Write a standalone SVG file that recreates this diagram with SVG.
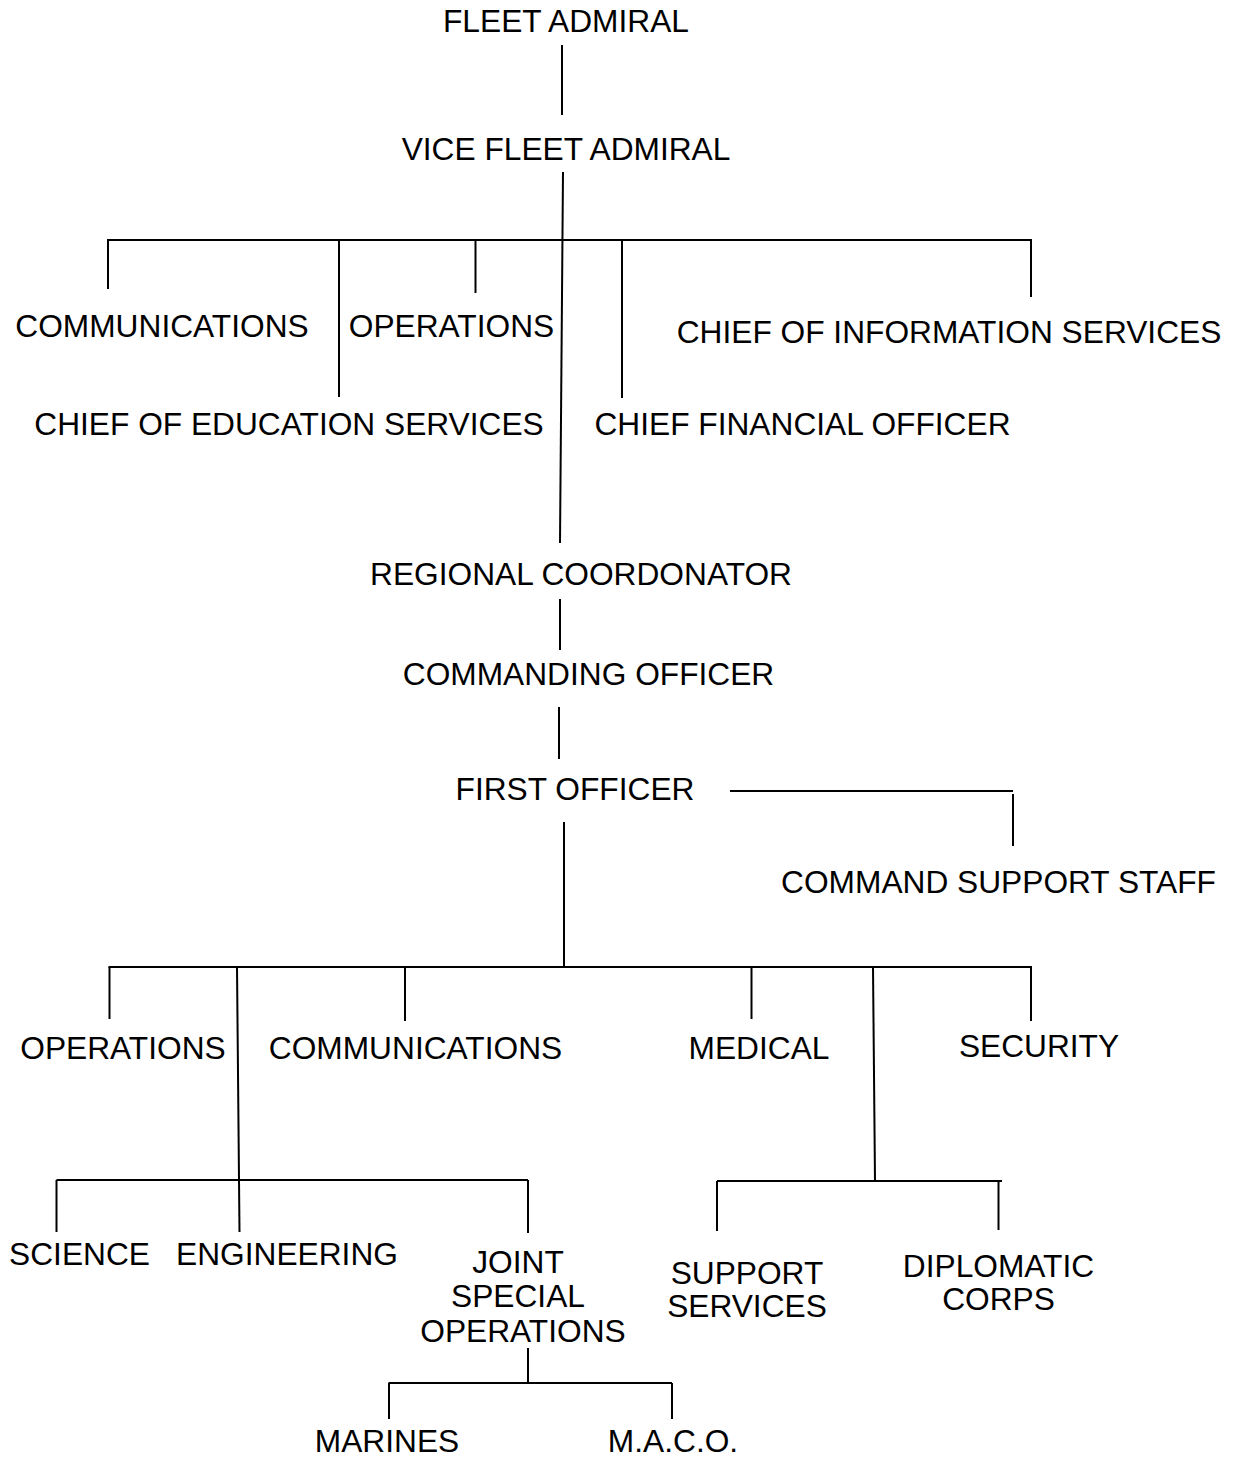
<svg xmlns="http://www.w3.org/2000/svg" width="1238" height="1460" viewBox="0 0 1238 1460">
  <style>
    .bg { fill: #ffffff; }
    .lbl { font-family: "Liberation Sans", Arial, sans-serif; font-size: 31.7px; fill: #000000; text-anchor: middle; }
    .ln { stroke: #000000; stroke-width: 2; fill: none; stroke-linecap: butt; }
  </style>
  <rect class="bg" x="0" y="0" width="1238" height="1460"/>

  <!-- connectors -->
  <g id="connectors">
    <!-- fleet admiral to vice -->
    <line class="ln" x1="562" y1="45" x2="562" y2="115"/>
    <!-- vice down to regional coordinator -->
    <line class="ln" x1="563" y1="172" x2="560" y2="543"/>
    <!-- staff bar -->
    <line class="ln" x1="107" y1="240" x2="1032" y2="240"/>
    <line class="ln" x1="108" y1="240" x2="108" y2="289"/>
    <line class="ln" x1="339" y1="240" x2="339" y2="397"/>
    <line class="ln" x1="475.5" y1="240" x2="475.5" y2="293"/>
    <line class="ln" x1="622" y1="240" x2="622" y2="398"/>
    <line class="ln" x1="1031" y1="240" x2="1031" y2="297"/>
    <!-- chain of command -->
    <line class="ln" x1="560" y1="599" x2="560" y2="650"/>
    <line class="ln" x1="559" y1="707" x2="559" y2="759"/>
    <!-- first officer to command support staff -->
    <line class="ln" x1="730" y1="791" x2="1013" y2="791"/>
    <line class="ln" x1="1013" y1="794" x2="1013" y2="846"/>
    <!-- first officer to departments -->
    <line class="ln" x1="564" y1="822" x2="564" y2="967"/>
    <line class="ln" x1="108.5" y1="967" x2="1032" y2="967"/>
    <line class="ln" x1="109.5" y1="967" x2="109.5" y2="1019"/>
    <line class="ln" x1="405" y1="967" x2="405" y2="1021"/>
    <line class="ln" x1="751.5" y1="967" x2="751.5" y2="1019"/>
    <line class="ln" x1="1031" y1="967" x2="1031" y2="1021"/>
    <!-- branch to science / engineering / jso -->
    <line class="ln" x1="237" y1="967" x2="239.5" y2="1232"/>
    <line class="ln" x1="56.5" y1="1180" x2="528" y2="1180"/>
    <line class="ln" x1="56.5" y1="1180" x2="56.5" y2="1232"/>
    <line class="ln" x1="528" y1="1180" x2="528" y2="1233"/>
    <!-- jso to marines / maco -->
    <line class="ln" x1="528" y1="1348" x2="528" y2="1383"/>
    <line class="ln" x1="388.5" y1="1383" x2="672" y2="1383"/>
    <line class="ln" x1="389" y1="1383" x2="389" y2="1419"/>
    <line class="ln" x1="672" y1="1383" x2="672" y2="1419"/>
    <!-- branch to support services / diplomatic corps -->
    <line class="ln" x1="873" y1="967" x2="875" y2="1180"/>
    <line class="ln" x1="717" y1="1181" x2="1002" y2="1181"/>
    <line class="ln" x1="717" y1="1181" x2="717" y2="1231"/>
    <line class="ln" x1="998.5" y1="1181" x2="998.5" y2="1230"/>
  </g>

  <!-- nodes -->
  <g id="fleet-admiral"><text class="lbl" x="566" y="31.5">FLEET ADMIRAL</text></g>
  <g id="vice-fleet-admiral"><text class="lbl" x="566" y="160">VICE FLEET ADMIRAL</text></g>
  <g id="staff-communications"><text class="lbl" x="162" y="337">COMMUNICATIONS</text></g>
  <g id="staff-operations"><text class="lbl" x="451.5" y="337">OPERATIONS</text></g>
  <g id="chief-information"><text class="lbl" x="949" y="343">CHIEF OF INFORMATION SERVICES</text></g>
  <g id="chief-education"><text class="lbl" x="289" y="435">CHIEF OF EDUCATION SERVICES</text></g>
  <g id="chief-financial"><text class="lbl" x="802.5" y="435">CHIEF FINANCIAL OFFICER</text></g>
  <g id="regional-coordinator"><text class="lbl" x="581" y="585">REGIONAL COORDONATOR</text></g>
  <g id="commanding-officer"><text class="lbl" x="588.5" y="685">COMMANDING OFFICER</text></g>
  <g id="first-officer"><text class="lbl" x="575" y="800">FIRST OFFICER</text></g>
  <g id="command-support-staff"><text class="lbl" x="998.5" y="893">COMMAND SUPPORT STAFF</text></g>
  <g id="dept-operations"><text class="lbl" x="123" y="1059">OPERATIONS</text></g>
  <g id="dept-communications"><text class="lbl" x="415.5" y="1059">COMMUNICATIONS</text></g>
  <g id="dept-medical"><text class="lbl" x="759" y="1059">MEDICAL</text></g>
  <g id="dept-security"><text class="lbl" x="1039" y="1057">SECURITY</text></g>
  <g id="science"><text class="lbl" x="79.5" y="1265">SCIENCE</text></g>
  <g id="engineering"><text class="lbl" x="287" y="1265">ENGINEERING</text></g>
  <g id="joint-special-operations">
    <text class="lbl" x="518" y="1273">JOINT</text>
    <text class="lbl" x="518" y="1307">SPECIAL</text>
    <text class="lbl" x="523" y="1342">OPERATIONS</text>
  </g>
  <g id="support-services">
    <text class="lbl" x="747" y="1284">SUPPORT</text>
    <text class="lbl" x="747" y="1317">SERVICES</text>
  </g>
  <g id="diplomatic-corps">
    <text class="lbl" x="998.5" y="1277">DIPLOMATIC</text>
    <text class="lbl" x="998.5" y="1310">CORPS</text>
  </g>
  <g id="marines"><text class="lbl" x="387" y="1452">MARINES</text></g>
  <g id="maco"><text class="lbl" x="673" y="1452">M.A.C.O.</text></g>
</svg>
